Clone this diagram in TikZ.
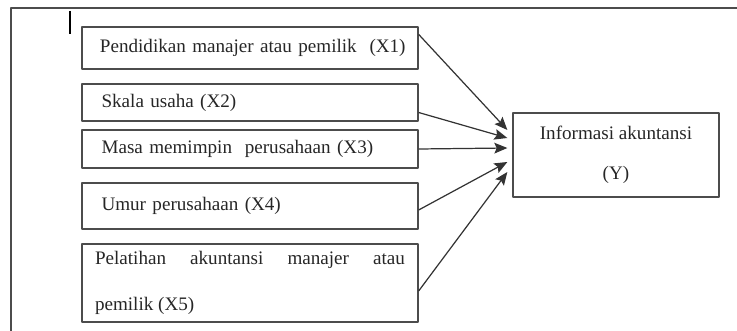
\documentclass[tikz,border=0pt]{standalone}
\usepackage{fontspec}
\setmainfont{Liberation Serif}
\usetikzlibrary{calc,arrows.meta}
\begin{document}
\begin{tikzpicture}[x=0.023cm,y=-0.023cm,>={Stealth[length=8.5pt,width=7pt,inset=1.5pt]},line join=round,
	font=\fontsize{12.5}{15}\selectfont,text=black!85,
	var/.style={draw=black!70,line width=0.8pt,minimum width=7.728cm,text width=6.828cm,inner xsep=0.45cm,align=left},
	arr/.style={->,draw=black!80,line width=0.8pt}]
	\useasboundingbox (0,0) rectangle (737,331);
	\draw[black!70,line width=0.8pt] (11,331)--(11,8)--(737,8);
	\draw[line width=1.5pt] (70,11)--(70,34);
	\node[var,minimum height=0.966cm,inner xsep=0.414cm,text width=6.9cm] (x1) at (250,48) {\mbox{Pendidikan manajer atau pemilik\ \ (X1)}};
	\node[var,minimum height=0.851cm] (x2) at (250,102.5) {Skala usaha (X2)};
	\node[var,minimum height=0.874cm] (x3) at (250,149) {Masa memimpin\ \ perusahaan (X3)};
	\node[var,minimum height=1.058cm] (x4) at (250,206) {Umur perusahaan (X4)};
	\node[var,minimum height=1.794cm,inner xsep=0.3cm,text width=7.128cm,align=justify,
		font=\fontsize{12.5}{30}\selectfont] (x5) at (250,283) {Pelatihan akuntansi manajer atau\linebreak pemilik (X5)};
	\node[draw=black!70,line width=0.8pt,minimum width=4.738cm,minimum height=1.932cm,align=center,
		font=\fontsize{12.5}{26}\selectfont] (y) at (616,155) {Informasi akuntansi\\(Y)};
	\draw[arr] ($(x1.north east)+(0,8)$) -- ($(y.west)+(-5,-25)$);
	\draw[arr] ($(x2.east)+(0,10)$) -- ($(y.west)+(-5,-17)$);
	\draw[arr] (x3.east) -- ($(y.west)+(-5,-7)$);
	\draw[arr] ($(x4.east)+(0,4)$) -- ($(y.west)+(-5,7)$);
	\draw[arr] ($(x5.east)+(0,8)$) -- ($(y.west)+(-5,17)$);
\end{tikzpicture}
\end{document}
